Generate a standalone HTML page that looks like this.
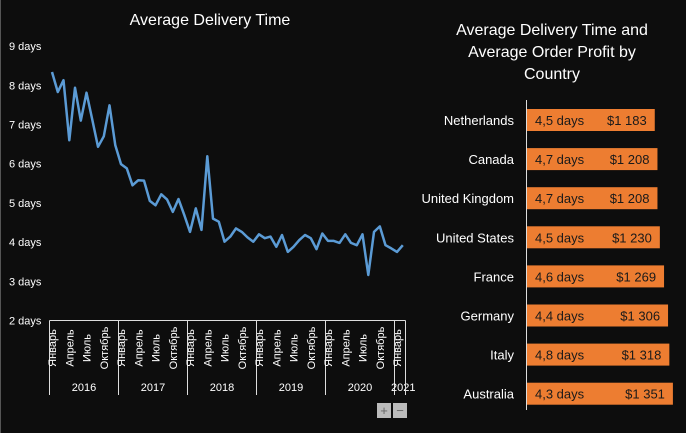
<!DOCTYPE html>
<html><head><meta charset="utf-8"><style>
html,body{margin:0;padding:0;background:#0d0d0d;}
svg{display:block;font-family:"Liberation Sans","DejaVu Sans",sans-serif;}
</style></head><body>
<svg id="c" width="686" height="433" viewBox="0 0 686 433">
<rect x="0" y="0" width="686" height="433" fill="#0d0d0d"/>
<line x1="0.5" y1="0" x2="0.5" y2="433" stroke="#555"/>
<text x="210" y="25" fill="#fff" font-size="16" text-anchor="middle">Average Delivery Time</text>
<g fill="#fff" font-size="16" text-anchor="middle">
<text x="552" y="35">Average Delivery Time and</text>
<text x="552" y="57">Average Order Profit by</text>
<text x="552" y="79">Country</text>
</g>
<g id="lc"></g>
<g id="bc"></g>
<g>
<rect x="377" y="403" width="14" height="15" fill="#bbb"/>
<text x="384" y="415" fill="#666" font-size="13" text-anchor="middle">+</text>
<rect x="393" y="403" width="14" height="15" fill="#bbb"/>
<text x="400" y="415" fill="#666" font-size="13" text-anchor="middle">−</text>
</g>
</svg>
<script>
const deliveryDays = [8.34,7.83,8.13,6.60,7.94,7.10,7.81,7.12,6.43,6.70,7.49,6.47,
5.99,5.88,5.45,5.58,5.57,5.05,4.94,5.22,5.09,4.77,5.10,4.69,
4.26,4.86,4.31,6.19,4.60,4.52,4.01,4.14,4.35,4.26,4.12,4.01,
4.20,4.10,4.14,3.88,4.18,3.75,3.88,4.05,4.18,4.10,3.82,4.22,
4.03,4.03,3.98,4.20,3.98,3.92,4.20,3.16,4.26,4.40,3.92,3.84,
3.75,3.92];
const yTicks = [2,3,4,5,6,7,8,9];
const years = ["2016","2017","2018","2019","2020","2021"];
const monthLabels = ["Январь","Апрель","Июль","Октябрь"];
const countries = ["Netherlands","Canada","United Kingdom","United States","France","Germany","Italy","Australia"];
const avgDays = ["4,5","4,7","4,7","4,5","4,6","4,4","4,8","4,3"];
const profits = [1183,1208,1208,1230,1269,1306,1318,1351];

const NS="http://www.w3.org/2000/svg";
function mk(tag,attrs,parent,text){const e=document.createElementNS(NS,tag);for(const k in attrs)e.setAttribute(k,attrs[k]);if(text!==undefined)e.textContent=text;parent.appendChild(e);return e;}
const lc=document.getElementById('lc'), bc=document.getElementById('bc');
const y=v=>320.5-(v-2)*39.2;
const mStep=5.75, x0=52;
const x=i=>x0+i*mStep;

yTicks.forEach(t=>{
  const el=mk('text',{x:9,y:y(t)+4,fill:'#fff','font-size':11},lc,t+' days');
  
  
});
const ax=mk('line',{x1:49.5,y1:320.5,x2:405.5,y2:320.5,stroke:'#ddd'},lc);


const nMonths=deliveryDays.length;
years.forEach((yr,yi)=>{
  const bx=49.5+yi*12*mStep;
  const t=mk('line',{x1:bx,y1:320.5,x2:bx,y2:395,stroke:'#ddd'},lc);
  
  
  const startM=yi*12, endM=Math.min(startM+12,nMonths);
  const ex=49.5+endM*mStep;
  const lab=mk('text',{x:(bx+ex)/2+(yi===years.length-1?3:0),y:391,fill:'#fff','font-size':11,'text-anchor':'middle'},lc,yr);
  
  
  for(let q=0;q<4;q++){
    const m=startM+q*3; if(m>=nMonths)break;
    const mx=x(m)+4;
    const ml=mk('text',{x:0,y:0,fill:'#fff','font-size':11,'text-anchor':'middle',transform:`translate(${mx},348) rotate(-90)`},lc,monthLabels[q]);
    
    
  }
});
const endTick=mk('line',{x1:405.5,y1:320.5,x2:405.5,y2:395,stroke:'#ddd'},lc);


const pts=deliveryDays.map((v,i)=>x(i).toFixed(1)+','+y(v).toFixed(1)).join(' ');
const pl=mk('polyline',{points:pts,fill:'none',stroke:'#5b9bd5','stroke-width':2.5,'stroke-linejoin':'round'},lc);



const bx0=527, bs=0.108;
const va=mk('line',{x1:526.5,y1:100,x2:526.5,y2:410,stroke:'#ddd'},bc);


countries.forEach((c,i)=>{
  const cy=120+i*39.1;
  const w=profits[i]*bs;
  const r=mk('rect',{x:bx0,y:cy-11,width:w,height:22,fill:'#ed7d31'},bc);
  
  
  const cl=mk('text',{x:514,y:cy+5,fill:'#fff','font-size':13,'text-anchor':'end'},bc,c);
  
  
  const dl=mk('text',{x:535,y:cy+5,fill:'#1a1a1a','font-size':13},bc,avgDays[i]+' days');
  
  
  const s=String(profits[i]);
  const pl2=mk('text',{x:bx0+w-8,y:cy+5,fill:'#1a1a1a','font-size':13,'text-anchor':'end'},bc,'$'+s.slice(0,s.length-3)+' '+s.slice(-3));
  
  
});
</script>
</body></html>
